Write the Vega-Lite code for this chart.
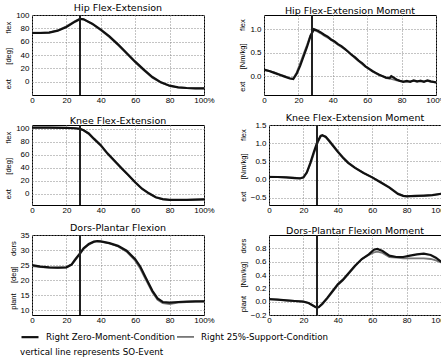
{
  "$schema": "https://vega.github.io/schema/vega-lite/v6.json",
  "background": "white",
  "padding": {"left": 4, "top": 2, "right": 2, "bottom": 2},
  "spacing": 7,
  "config": {
    "font": "Liberation Sans",
    "view": {"stroke": "black", "strokeWidth": 1},
    "title": {"font": "DejaVu Sans", "fontSize": 9.5, "fontWeight": "normal", "offset": -1, "color": "black"},
    "axis": {"labelFontSize": 8, "labelColor": "black", "titleFontSize": 7.5, "titleFontWeight": "normal", "titleColor": "black", "domain": false, "ticks": false, "labelPadding": 3, "titlePadding": 3, "gridColor": "#888", "gridDash": [1, 2], "gridOpacity": 1, "labelOverlap": false, "labelFlush": false},
    "axisX": {"labelPadding": 1, "labelOverlap": false, "tickCount": 6},
    "line": {"strokeCap": "round"}
  },
  "datasets": {
    "gait": [
      {"p":"hf","x":0,"z":73,"s":73.5},{"p":"hf","x":5,"z":73,"s":73.5},{"p":"hf","x":10,"z":73.5,"s":74},{"p":"hf","x":15,"z":76.5,"s":77},{"p":"hf","x":20,"z":82,"s":83},{"p":"hf","x":25,"z":90,"s":91},{"p":"hf","x":28,"z":94,"s":94.5},{"p":"hf","x":30,"z":93.5,"s":93.5},{"p":"hf","x":35,"z":87,"s":86.5},{"p":"hf","x":40,"z":78,"s":77},{"p":"hf","x":45,"z":68,"s":67},{"p":"hf","x":50,"z":56,"s":55},{"p":"hf","x":55,"z":43,"s":42},{"p":"hf","x":60,"z":30,"s":29},{"p":"hf","x":65,"z":18,"s":17},{"p":"hf","x":70,"z":7,"s":6},{"p":"hf","x":75,"z":-1,"s":-1.5},{"p":"hf","x":80,"z":-6,"s":-6.5},{"p":"hf","x":85,"z":-8.5,"s":-8.5},{"p":"hf","x":90,"z":-9.5,"s":-9.5},{"p":"hf","x":95,"z":-10,"s":-10},{"p":"hf","x":100,"z":-10,"s":-10},
      {"p":"hm","x":0,"z":0.14,"s":0.13},{"p":"hm","x":3,"z":0.11,"s":0.11},{"p":"hm","x":6,"z":0.07,"s":0.08},{"p":"hm","x":9,"z":0.03,"s":0.04},{"p":"hm","x":12,"z":-0.01,"s":0.0},{"p":"hm","x":15,"z":-0.05,"s":-0.04},{"p":"hm","x":17,"z":-0.06,"s":-0.05},{"p":"hm","x":19,"z":0.05,"s":0.08},{"p":"hm","x":21,"z":0.22,"s":0.27},{"p":"hm","x":23,"z":0.42,"s":0.47},{"p":"hm","x":25,"z":0.62,"s":0.66},{"p":"hm","x":27,"z":0.85,"s":0.87},{"p":"hm","x":29,"z":1.0,"s":0.98},{"p":"hm","x":31,"z":0.97,"s":0.95},{"p":"hm","x":33,"z":0.93,"s":0.91},{"p":"hm","x":35,"z":0.88,"s":0.86},{"p":"hm","x":37,"z":0.84,"s":0.82},{"p":"hm","x":39,"z":0.78,"s":0.77},{"p":"hm","x":41,"z":0.74,"s":0.72},{"p":"hm","x":43,"z":0.68,"s":0.67},{"p":"hm","x":45,"z":0.64,"s":0.62},{"p":"hm","x":47,"z":0.58,"s":0.57},{"p":"hm","x":49,"z":0.52,"s":0.51},{"p":"hm","x":51,"z":0.45,"s":0.45},{"p":"hm","x":53,"z":0.4,"s":0.38},{"p":"hm","x":55,"z":0.33,"s":0.32},{"p":"hm","x":57,"z":0.28,"s":0.26},{"p":"hm","x":59,"z":0.21,"s":0.2},{"p":"hm","x":61,"z":0.16,"s":0.15},{"p":"hm","x":63,"z":0.11,"s":0.1},{"p":"hm","x":65,"z":0.07,"s":0.06},{"p":"hm","x":67,"z":0.03,"s":0.02},{"p":"hm","x":69,"z":0.0,"s":0.0},{"p":"hm","x":71,"z":-0.03,"s":-0.04},{"p":"hm","x":73,"z":-0.04,"s":-0.05},{"p":"hm","x":74,"z":0.0,"s":-0.06},{"p":"hm","x":75,"z":-0.02,"s":-0.07},{"p":"hm","x":77,"z":-0.07,"s":-0.09},{"p":"hm","x":79,"z":-0.1,"s":-0.1},{"p":"hm","x":81,"z":-0.12,"s":-0.11},{"p":"hm","x":83,"z":-0.1,"s":-0.12},{"p":"hm","x":85,"z":-0.12,"s":-0.11},{"p":"hm","x":87,"z":-0.09,"s":-0.1},{"p":"hm","x":89,"z":-0.11,"s":-0.12},{"p":"hm","x":91,"z":-0.1,"s":-0.09},{"p":"hm","x":93,"z":-0.12,"s":-0.11},{"p":"hm","x":95,"z":-0.09,"s":-0.1},{"p":"hm","x":97,"z":-0.11,"s":-0.12},{"p":"hm","x":100,"z":-0.13,"s":-0.13},
      {"p":"kf","x":0,"z":102,"s":102},{"p":"kf","x":10,"z":102,"s":102},{"p":"kf","x":20,"z":101.5,"s":101.5},{"p":"kf","x":25,"z":101,"s":101},{"p":"kf","x":28,"z":100,"s":100},{"p":"kf","x":30,"z":98,"s":97.5},{"p":"kf","x":33,"z":93,"s":92},{"p":"kf","x":36,"z":85,"s":84},{"p":"kf","x":40,"z":75,"s":74},{"p":"kf","x":44,"z":62,"s":61},{"p":"kf","x":48,"z":51,"s":50},{"p":"kf","x":52,"z":40,"s":39},{"p":"kf","x":56,"z":29,"s":28.5},{"p":"kf","x":60,"z":18,"s":17.5},{"p":"kf","x":64,"z":8,"s":7.5},{"p":"kf","x":68,"z":1,"s":0.5},{"p":"kf","x":72,"z":-5,"s":-5.5},{"p":"kf","x":76,"z":-8,"s":-8.5},{"p":"kf","x":80,"z":-9,"s":-9},{"p":"kf","x":90,"z":-9,"s":-9},{"p":"kf","x":100,"z":-8.5,"s":-8.5},
      {"p":"km","x":0,"z":0.07,"s":0.08},{"p":"km","x":5,"z":0.07,"s":0.07},{"p":"km","x":10,"z":0.06,"s":0.06},{"p":"km","x":15,"z":0.04,"s":0.05},{"p":"km","x":18,"z":0.03,"s":0.03},{"p":"km","x":20,"z":0.06,"s":0.05},{"p":"km","x":22,"z":0.2,"s":0.18},{"p":"km","x":24,"z":0.45,"s":0.42},{"p":"km","x":26,"z":0.75,"s":0.7},{"p":"km","x":28,"z":1.02,"s":0.98},{"p":"km","x":30,"z":1.2,"s":1.18},{"p":"km","x":31,"z":1.22,"s":1.21},{"p":"km","x":33,"z":1.17,"s":1.18},{"p":"km","x":35,"z":1.06,"s":1.08},{"p":"km","x":38,"z":0.88,"s":0.9},{"p":"km","x":40,"z":0.76,"s":0.78},{"p":"km","x":43,"z":0.6,"s":0.62},{"p":"km","x":46,"z":0.46,"s":0.47},{"p":"km","x":50,"z":0.32,"s":0.33},{"p":"km","x":55,"z":0.18,"s":0.18},{"p":"km","x":60,"z":0.06,"s":0.06},{"p":"km","x":65,"z":-0.08,"s":-0.07},{"p":"km","x":70,"z":-0.22,"s":-0.21},{"p":"km","x":75,"z":-0.4,"s":-0.38},{"p":"km","x":78,"z":-0.45,"s":-0.44},{"p":"km","x":80,"z":-0.46,"s":-0.45},{"p":"km","x":85,"z":-0.45,"s":-0.46},{"p":"km","x":90,"z":-0.44,"s":-0.45},{"p":"km","x":95,"z":-0.43,"s":-0.43},{"p":"km","x":100,"z":-0.39,"s":-0.4},
      {"p":"df","x":0,"z":25,"s":24.7},{"p":"df","x":5,"z":24.5,"s":24.4},{"p":"df","x":10,"z":24.3,"s":24.2},{"p":"df","x":15,"z":24.2,"s":24.1},{"p":"df","x":20,"z":24.3,"s":24.3},{"p":"df","x":23,"z":25.2,"s":25.2},{"p":"df","x":25,"z":26.8,"s":26.6},{"p":"df","x":28,"z":29,"s":28.8},{"p":"df","x":30,"z":30.6,"s":30.4},{"p":"df","x":33,"z":32,"s":31.8},{"p":"df","x":36,"z":32.8,"s":32.7},{"p":"df","x":38,"z":33,"s":32.9},{"p":"df","x":40,"z":32.9,"s":32.8},{"p":"df","x":45,"z":32.3,"s":32.2},{"p":"df","x":50,"z":31.4,"s":31.2},{"p":"df","x":55,"z":29.8,"s":29.5},{"p":"df","x":60,"z":27,"s":26.5},{"p":"df","x":63,"z":24.5,"s":23.8},{"p":"df","x":66,"z":21,"s":20.4},{"p":"df","x":70,"z":16.5,"s":16},{"p":"df","x":73,"z":14,"s":13.5},{"p":"df","x":76,"z":12.8,"s":12.4},{"p":"df","x":80,"z":12.6,"s":12.1},{"p":"df","x":85,"z":12.8,"s":12.6},{"p":"df","x":90,"z":12.9,"s":12.8},{"p":"df","x":95,"z":13,"s":12.9},{"p":"df","x":100,"z":13,"s":13},
      {"p":"dm","x":0,"z":0.04,"s":0.03},{"p":"dm","x":5,"z":0.03,"s":0.03},{"p":"dm","x":10,"z":0.02,"s":0.02},{"p":"dm","x":15,"z":0.01,"s":0.01},{"p":"dm","x":20,"z":0.0,"s":0.0},{"p":"dm","x":23,"z":-0.02,"s":-0.02},{"p":"dm","x":25,"z":-0.05,"s":-0.05},{"p":"dm","x":27,"z":-0.08,"s":-0.08},{"p":"dm","x":28,"z":-0.09,"s":-0.09},{"p":"dm","x":29,"z":-0.08,"s":-0.08},{"p":"dm","x":31,"z":-0.03,"s":-0.04},{"p":"dm","x":34,"z":0.06,"s":0.05},{"p":"dm","x":37,"z":0.16,"s":0.15},{"p":"dm","x":40,"z":0.26,"s":0.25},{"p":"dm","x":43,"z":0.33,"s":0.32},{"p":"dm","x":46,"z":0.42,"s":0.41},{"p":"dm","x":50,"z":0.54,"s":0.53},{"p":"dm","x":54,"z":0.64,"s":0.64},{"p":"dm","x":58,"z":0.71,"s":0.7},{"p":"dm","x":61,"z":0.78,"s":0.74},{"p":"dm","x":63,"z":0.79,"s":0.75},{"p":"dm","x":66,"z":0.76,"s":0.73},{"p":"dm","x":70,"z":0.69,"s":0.67},{"p":"dm","x":74,"z":0.67,"s":0.66},{"p":"dm","x":78,"z":0.67,"s":0.65},{"p":"dm","x":82,"z":0.69,"s":0.65},{"p":"dm","x":86,"z":0.71,"s":0.65},{"p":"dm","x":90,"z":0.72,"s":0.65},{"p":"dm","x":94,"z":0.7,"s":0.64},{"p":"dm","x":97,"z":0.66,"s":0.62},{"p":"dm","x":100,"z":0.6,"s":0.59}
    ]
  },
  "vconcat": [
    {"spacing": 23, "hconcat": [
      {"title": "Hip Flex-Extension", "width": 172, "height": 80, "data": {"name": "gait"},
       "layer": [
        {"transform": [{"filter": "datum.p == 'hf'"}, {"fold": ["s", "z"], "as": ["cond", "y"]}],
         "mark": {"type": "line", "clip": true},
         "encoding": {
          "x": {"field": "x", "type": "quantitative", "scale": {"domain": [0, 100], "nice": false}, "axis": {"title": null, "values": [0,20,40,60,80,100], "tickCount": 6, "labelOverlap": false, "labelExpr": "datum.value == 100 ? '100%' : datum.label"}},
          "y": {"field": "y", "type": "quantitative", "scale": {"domain": [-20, 100], "nice": false, "zero": false}, "axis": {"title": "ext\u00a0\u00a0\u00a0\u00a0\u00a0\u00a0\u00a0[deg]\u00a0\u00a0\u00a0\u00a0\u00a0\u00a0\u00a0flex", "values": [0,20,40,60,80,100], "tickCount": 6, "labelOverlap": false}},
          "color": {"field": "cond", "type": "nominal", "scale": {"domain": ["z", "s"], "range": ["#111111", "#777777"]}},
          "strokeWidth": {"field": "cond", "type": "nominal", "scale": {"domain": ["z", "s"], "range": [2.2, 1.8]}, "legend": null}
         }},
        {"mark": {"type": "rule", "color": "#222", "strokeWidth": 1.5}, "encoding": {"x": {"datum": 28}}}
       ]},
      {"title": "Hip Flex-Extension Moment", "width": 172, "height": 80, "data": {"name": "gait"},
       "layer": [
        {"transform": [{"filter": "datum.p == 'hm'"}, {"fold": ["s", "z"], "as": ["cond", "y"]}],
         "mark": {"type": "line", "clip": true},
         "encoding": {
          "x": {"field": "x", "type": "quantitative", "scale": {"domain": [0, 100], "nice": false}, "axis": {"title": null, "values": [0,20,40,60,80,100], "tickCount": 6, "labelOverlap": false, "labelExpr": "datum.value == 100 ? '100%' : datum.label"}},
          "y": {"field": "y", "type": "quantitative", "scale": {"domain": [-0.4, 1.3], "nice": false, "zero": false}, "axis": {"title": "ext\u00a0\u00a0\u00a0\u00a0\u00a0\u00a0[Nm/kg]\u00a0\u00a0\u00a0\u00a0\u00a0\u00a0flex", "values": [0, 0.5, 1], "tickCount": 4, "labelOverlap": false}},
          "color": {"field": "cond", "type": "nominal", "scale": {"domain": ["z", "s"], "range": ["#111111", "#777777"]}},
          "strokeWidth": {"field": "cond", "type": "nominal", "scale": {"domain": ["z", "s"], "range": [2.2, 1.8]}, "legend": null}
         }},
        {"mark": {"type": "rule", "color": "#222", "strokeWidth": 1.5}, "encoding": {"x": {"datum": 28}}}
       ]}
    ]},
    {"spacing": 23, "hconcat": [
      {"title": "Knee Flex-Extension", "width": 172, "height": 80, "data": {"name": "gait"},
       "layer": [
        {"transform": [{"filter": "datum.p == 'kf'"}, {"fold": ["s", "z"], "as": ["cond", "y"]}],
         "mark": {"type": "line", "clip": true},
         "encoding": {
          "x": {"field": "x", "type": "quantitative", "scale": {"domain": [0, 100], "nice": false}, "axis": {"title": null, "values": [0,20,40,60,80,100], "tickCount": 6, "labelOverlap": false, "labelExpr": "datum.value == 100 ? '100%' : datum.label"}},
          "y": {"field": "y", "type": "quantitative", "scale": {"domain": [-17, 106], "nice": false, "zero": false}, "axis": {"title": "ext\u00a0\u00a0\u00a0\u00a0\u00a0\u00a0\u00a0[deg]\u00a0\u00a0\u00a0\u00a0\u00a0\u00a0\u00a0flex", "values": [0,20,40,60,80,100], "tickCount": 6, "labelOverlap": false}},
          "color": {"field": "cond", "type": "nominal", "scale": {"domain": ["z", "s"], "range": ["#111111", "#777777"]}},
          "strokeWidth": {"field": "cond", "type": "nominal", "scale": {"domain": ["z", "s"], "range": [2.2, 1.8]}, "legend": null}
         }},
        {"mark": {"type": "rule", "color": "#222", "strokeWidth": 1.5}, "encoding": {"x": {"datum": 28}}}
       ]},
      {"title": "Knee Flex-Extension Moment", "width": 172, "height": 80, "data": {"name": "gait"},
       "layer": [
        {"transform": [{"filter": "datum.p == 'km'"}, {"fold": ["s", "z"], "as": ["cond", "y"]}],
         "mark": {"type": "line", "clip": true},
         "encoding": {
          "x": {"field": "x", "type": "quantitative", "scale": {"domain": [0, 100], "nice": false}, "axis": {"title": null, "values": [0,20,40,60,80,100], "tickCount": 6, "labelOverlap": false, "labelExpr": "datum.value == 100 ? '100%' : datum.label"}},
          "y": {"field": "y", "type": "quantitative", "scale": {"domain": [-0.7, 1.5], "nice": false, "zero": false}, "axis": {"title": "ext\u00a0\u00a0\u00a0\u00a0\u00a0\u00a0[Nm/kg]\u00a0\u00a0\u00a0\u00a0\u00a0\u00a0flex", "values": [-0.5, 0, 0.5, 1, 1.5], "tickCount": 5, "labelOverlap": false}},
          "color": {"field": "cond", "type": "nominal", "scale": {"domain": ["z", "s"], "range": ["#111111", "#777777"]}},
          "strokeWidth": {"field": "cond", "type": "nominal", "scale": {"domain": ["z", "s"], "range": [2.2, 1.8]}, "legend": null}
         }},
        {"mark": {"type": "rule", "color": "#222", "strokeWidth": 1.5}, "encoding": {"x": {"datum": 28}}}
       ]}
    ]},
    {"spacing": 23, "hconcat": [
      {"title": "Dors-Plantar Flexion", "width": 172, "height": 80, "data": {"name": "gait"},
       "layer": [
        {"transform": [{"filter": "datum.p == 'df'"}, {"fold": ["s", "z"], "as": ["cond", "y"]}],
         "mark": {"type": "line", "clip": true},
         "encoding": {
          "x": {"field": "x", "type": "quantitative", "scale": {"domain": [0, 100], "nice": false}, "axis": {"title": null, "values": [0,20,40,60,80,100], "tickCount": 6, "labelOverlap": false, "labelExpr": "datum.value == 100 ? '100%' : datum.label"}},
          "y": {"field": "y", "type": "quantitative", "scale": {"domain": [8.5, 35], "nice": false, "zero": false}, "axis": {"title": "plant\u00a0\u00a0\u00a0\u00a0\u00a0[deg]\u00a0\u00a0\u00a0\u00a0\u00a0dors", "values": [10,15,20,25,30,35], "tickCount": 6, "labelOverlap": false}},
          "color": {"field": "cond", "type": "nominal", "scale": {"domain": ["z", "s"], "range": ["#111111", "#777777"]}},
          "strokeWidth": {"field": "cond", "type": "nominal", "scale": {"domain": ["z", "s"], "range": [2.2, 1.8]}, "legend": null}
         }},
        {"mark": {"type": "rule", "color": "#222", "strokeWidth": 1.5}, "encoding": {"x": {"datum": 28}}}
       ]},
      {"title": "Dors-Plantar Flexion Moment", "width": 172, "height": 80, "data": {"name": "gait"},
       "layer": [
        {"transform": [{"filter": "datum.p == 'dm'"}, {"fold": ["s", "z"], "as": ["cond", "y"]}],
         "mark": {"type": "line", "clip": true},
         "encoding": {
          "x": {"field": "x", "type": "quantitative", "scale": {"domain": [0, 100], "nice": false}, "axis": {"title": null, "values": [0,20,40,60,80,100], "tickCount": 6, "labelOverlap": false, "labelExpr": "datum.value == 100 ? '100%' : datum.label"}},
          "y": {"field": "y", "type": "quantitative", "scale": {"domain": [-0.2, 1.0], "nice": false, "zero": false}, "axis": {"title": "plant\u00a0\u00a0\u00a0\u00a0[Nm/kg]\u00a0\u00a0\u00a0\u00a0dors", "values": [-0.2, 0, 0.2, 0.4, 0.6, 0.8], "tickCount": 6, "labelOverlap": false}},
          "color": {"field": "cond", "type": "nominal", "scale": {"domain": ["z", "s"], "range": ["#111111", "#777777"]},
            "legend": {"orient": "none", "legendX": -12, "legendY": 312, "direction": "horizontal", "title": "vertical line represents SO-Event", "titleOrient": "bottom", "titleAnchor": "start", "titleFont": "DejaVu Sans", "titleFontSize": 8.7, "titleFontWeight": "normal", "titleColor": "black", "titlePadding": 6, "labelFont": "DejaVu Sans", "labelFontSize": 8.7, "labelColor": "black", "labelOffset": 6, "symbolType": "stroke", "symbolStrokeWidth": 3, "symbolSize": 289, "columnPadding": -14, "labelExpr": "datum.label == 'z' ? 'Right Zero-Moment-Condition' : 'Right 25%-Support-Condition'"}},
          "strokeWidth": {"field": "cond", "type": "nominal", "scale": {"domain": ["z", "s"], "range": [2.2, 1.8]}, "legend": null}
         }},
        {"mark": {"type": "rule", "color": "#222", "strokeWidth": 1.5}, "encoding": {"x": {"datum": 28}}}
       ]}
    ]}
  ]
}
